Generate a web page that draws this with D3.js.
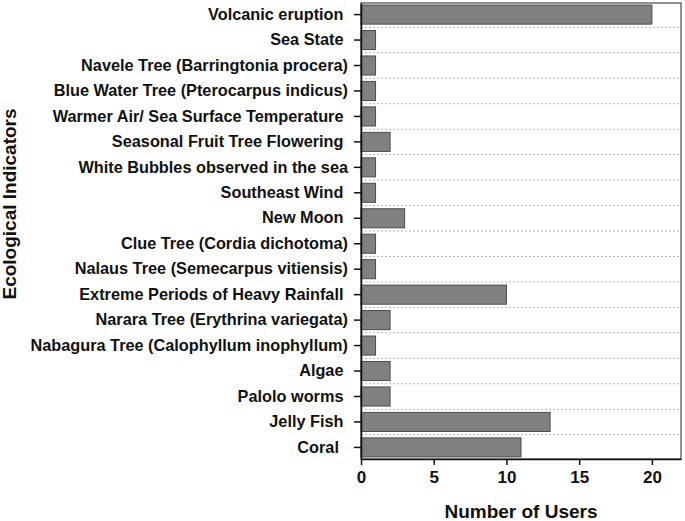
<!DOCTYPE html>
<html>
<head>
<meta charset="utf-8">
<script src="https://cdn.jsdelivr.net/npm/d3@7"></script>
<style>
  body { margin: 0; background: #fff; }
  text { font-family: "Liberation Sans", Arial, sans-serif; font-weight: bold; fill: #111; white-space: pre; }
</style>
</head>
<body>
<div id="chart"></div>
<script>
// indicators top to bottom, trailing spaces kept as in the source figure
const indicators = [
  "Volcanic eruption ", "Sea State ", "Navele Tree (Barringtonia procera)",
  "Blue Water Tree (Pterocarpus indicus)", "Warmer Air/ Sea Surface Temperature ",
  "Seasonal Fruit Tree Flowering ", "White Bubbles observed in the sea",
  "Southeast Wind ", "New Moon ", "Clue Tree (Cordia dichotoma)",
  "Nalaus Tree (Semecarpus vitiensis)", "Extreme Periods of Heavy Rainfall ",
  "Narara Tree (Erythrina variegata)", "Nabagura Tree (Calophyllum inophyllum)",
  "Algae ", "Palolo worms ", "Jelly Fish ", "Coral  "
];
const users = [20, 1, 1, 1, 1, 2, 1, 1, 3, 1, 1, 10, 2, 1, 2, 2, 13, 11];
const xTicks = [0, 5, 10, 15, 20];

const width = 685, height = 521;
const margin = { top: 3, right: 4, bottom: 62, left: 361 };

const svg = d3.select("#chart").append("svg")
  .attr("width", width)
  .attr("height", height);

const x = d3.scaleLinear()
  .domain([0, 22])
  .range([margin.left, width - margin.right]);

const y = d3.scaleBand()
  .domain(indicators)
  .range([margin.top, height - margin.bottom])
  .paddingInner(0.25)
  .paddingOuter(0.08);

const data = indicators.map((d, i) => ({ name: d, value: users[i] }));

// dotted separators between rows
const step = y.step();
svg.append("g")
  .selectAll("line")
  .data(indicators.slice(1))
  .join("line")
  .attr("x1", x(0))
  .attr("x2", x(22))
  .attr("y1", d => y(d) - step * y.paddingInner() / 2)
  .attr("y2", d => y(d) - step * y.paddingInner() / 2)
  .attr("stroke", "#b8b8b8")
  .attr("stroke-width", 1)
  .attr("stroke-dasharray", "2,2");

// frame
svg.append("rect")
  .attr("x", x(0))
  .attr("y", margin.top)
  .attr("width", x(22) - x(0))
  .attr("height", height - margin.bottom - margin.top)
  .attr("fill", "none")
  .attr("stroke", "#555")
  .attr("stroke-width", 1.3);

svg.append("g")
  .selectAll("rect")
  .data(data)
  .join("rect")
  .attr("x", x(0))
  .attr("y", d => y(d.name))
  .attr("width", d => x(d.value) - x(0))
  .attr("height", y.bandwidth())
  .attr("fill", "#808080")
  .attr("stroke", "#4d4d4d")
  .attr("stroke-width", 1);

const xAxis = g => g
  .attr("transform", `translate(0,${height - margin.bottom})`)
  .call(d3.axisBottom(x).tickValues(xTicks).tickSize(6).tickPadding(6).tickSizeOuter(0))
  .call(g => g.selectAll("path, line").attr("stroke", "#111").attr("stroke-width", 1.5))
  .call(g => g.selectAll("text").attr("font-size", 17).attr("font-family", null));

const yAxis = g => g
  .attr("transform", `translate(${margin.left},0)`)
  .call(d3.axisLeft(y).tickSize(7).tickPadding(6).tickSizeOuter(0))
  .call(g => g.selectAll("path, line").attr("stroke", "#111").attr("stroke-width", 1.5))
  .call(g => g.selectAll("text").attr("font-size", 16.3).attr("font-family", null));

svg.append("g").call(xAxis);
svg.append("g").call(yAxis);

svg.append("text")
  .attr("x", 521)
  .attr("y", 518)
  .attr("text-anchor", "middle")
  .attr("font-size", 19)
  .text("Number of Users");

svg.append("text")
  .attr("transform", `translate(16,204) rotate(-90)`)
  .attr("text-anchor", "middle")
  .attr("font-size", 19)
  .text("Ecological Indicators");
</script>
</body>
</html>
